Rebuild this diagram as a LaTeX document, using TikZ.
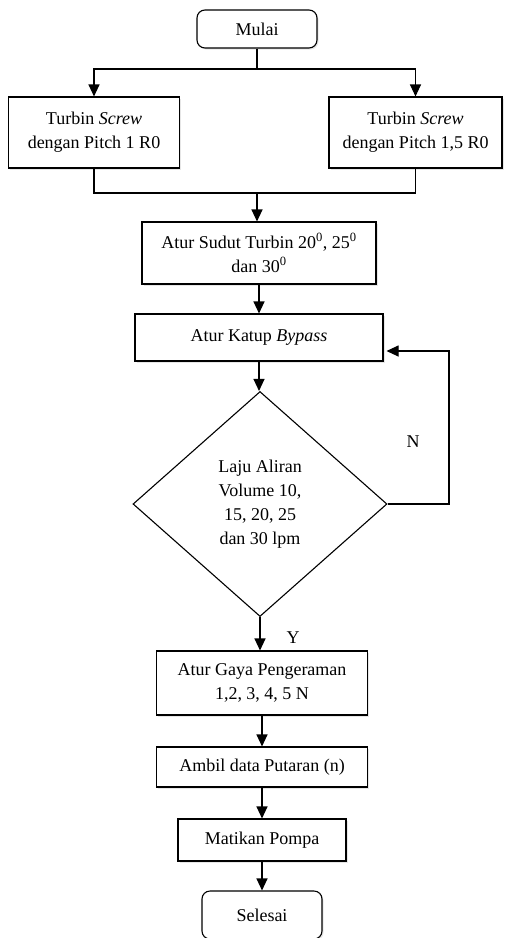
\documentclass[tikz,border=0pt]{standalone}
\usepackage{fontspec}
\setmainfont{Liberation Serif}
\usetikzlibrary{shapes.geometric,arrows.meta,shadows}

\begin{document}
\begin{tikzpicture}[x=1pt,y=-1pt,line width=1.1pt,
  font=\fontsize{18}{24}\selectfont,
  box/.style={rectangle,draw,fill=white,align=center,inner sep=2pt,
    drop shadow={shadow xshift=1.5pt,shadow yshift=-1.5pt,opacity=0.2}},
  term/.style={box,rounded corners=8pt},
  cond/.style={diamond,draw,fill=white,align=center,inner sep=0pt},
  arr/.style={-{Triangle[width=11pt,length=12pt]}}]
\useasboundingbox (0,0) rectangle (505,938);

\node[term,minimum width=120pt,minimum height=38pt] (mulai) at (257,29) {Mulai};
\node[box,minimum width=171pt,minimum height=71pt] (pitch1) at (94,132.5) {Turbin \textit{Screw}\\dengan Pitch 1 R0};
\node[box,minimum width=173pt,minimum height=71pt] (pitch15) at (415.5,132.5) {Turbin \textit{Screw}\\dengan Pitch 1,5 R0};
\node[box,minimum width=234pt,minimum height=62pt] (sudut) at (259,253) {Atur Sudut Turbin 20\textsuperscript{0}, 25\textsuperscript{0}\\dan 30\textsuperscript{0}};
\node[box,minimum width=248pt,minimum height=47pt] (katup) at (259,337.5) {Atur Katup \textit{Bypass}};
\node[cond,minimum width=254pt,minimum height=225pt] (laju) at (260,504) {Laju Aliran\\Volume 10,\\15, 20, 25\\dan 30 lpm};
\node[box,minimum width=211pt,minimum height=64pt] (gaya) at (262,683) {Atur Gaya Pengeraman\\1,2, 3, 4, 5 N};
\node[box,minimum width=211pt,minimum height=40pt] (ambil) at (262,767) {Ambil data Putaran (n)};
\node[box,minimum width=168pt,minimum height=42pt] (matikan) at (262,840) {Matikan Pompa};
\node[term,minimum width=120pt,minimum height=48pt] (selesai) at (262,915) {Selesai};

\node (nlabel) at (413,442) {N};
\node (ylabel) at (293,638) {Y};

\coordinate (split) at (257,69);
\coordinate (join) at (257,193);
\coordinate (back) at (449,351);

\draw (mulai) -- (split);
\draw[arr] (split) -| (pitch1.north);
\draw[arr] (split) -| (pitch15.north);
\draw (pitch1.south) |- (join) -| (pitch15.south);
\draw[arr] (join) -- (join |- sudut.north);
\draw[arr] (sudut.south) -- (katup.north);
\draw[arr] (katup.south) -- (katup.south |- laju.north);
\draw[arr,shorten >=3pt] (laju.east) -| (back) -- (back -| katup.east);
\draw[arr] (laju.south) -- (laju.south |- gaya.north);
\draw[arr] (gaya.south) -- (ambil.north);
\draw[arr] (ambil.south) -- (matikan.north);
\draw[arr] (matikan.south) -- (selesai.north);
\end{tikzpicture}
\end{document}
